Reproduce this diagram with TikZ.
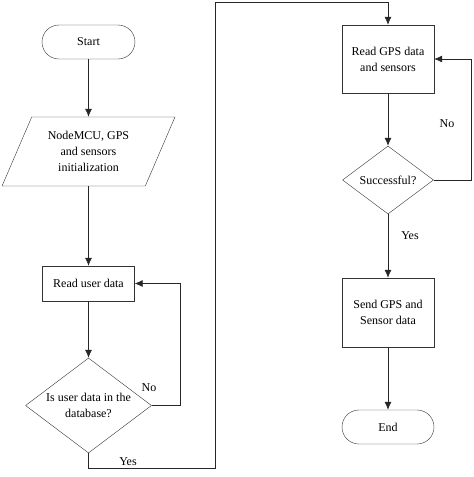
\documentclass[tikz,border=0pt]{standalone}
\usepackage{fontspec}
\setmainfont{Liberation Serif}
\usetikzlibrary{arrows.meta, shapes.geometric}

\begin{document}
\begin{tikzpicture}[x=1pt, y=-1pt, >={Latex[length=8pt,width=7pt]},
  font=\fontsize{12}{16}\selectfont,
  term/.style={draw=black!80, rectangle, rounded corners=17pt, minimum width=93pt, minimum height=34pt},
  proc/.style={draw=black!80, rectangle, align=center, minimum width=92pt},
  io/.style={draw=black!80, trapezium, trapezium left angle=64, trapezium right angle=116,
    trapezium stretches=true, align=center, minimum width=173pt, minimum height=69pt},
  dec/.style={draw=black!80, diamond, aspect=1.33, align=center, inner sep=0pt},
  flow/.style={black!85, line width=0.6pt}]
  \useasboundingbox (0,0) rectangle (474,477);

  % left column
  \node (start) at (88.5,42) [term] {Start};
  \node (init) at (88.5,151.5) [io] {NodeMCU, GPS\\and sensors\\initialization};
  \node (rud) at (88.5,283.5) [proc, minimum height=35pt] {Read user data};
  \node (dbq) at (88.5,405.5) [dec, minimum width=126pt, minimum height=95pt] {Is user data in the\\database?};

  % right column
  \node (rgps) at (388,59) [proc, minimum height=68pt] {Read GPS data\\and sensors};
  \node (okq) at (388,180) [dec, minimum width=91pt, minimum height=68pt] {Successful?};
  \node (send) at (388,312.5) [proc, minimum height=69pt] {Send GPS and\\Sensor data};
  \node (fin) at (388,427) [term, minimum width=92pt] {End};

  \coordinate (n1) at (180,0); % loop back x
  \coordinate (n2) at (471,0); % loop back x
  \coordinate (y1) at (215,468);
  \coordinate (y2) at (215,2);

  \draw[flow,->] (start) to (init);
  \draw[flow,->] (init) to (rud);
  \draw[flow,->] (rud) to (dbq);
  \draw[flow,->] (dbq.east) -- (dbq.east -| n1) |- (rud.east);
  \draw[flow,->] (dbq.south) |- (y1) -- (y2) -| (rgps.north);

  \draw[flow,->] (rgps) to (okq);
  \draw[flow,->] (okq.east) -- (okq.east -| n2) |- (rgps.east);
  \draw[flow,->] (okq) to (send);
  \draw[flow,->] (send) to (fin);

  \node (no1) at (149,388) {No};
  \node (yes1) at (128,462) {Yes};
  \node (no2) at (447,124) {No};
  \node (yes2) at (410,236) {Yes};
\end{tikzpicture}
\end{document}
